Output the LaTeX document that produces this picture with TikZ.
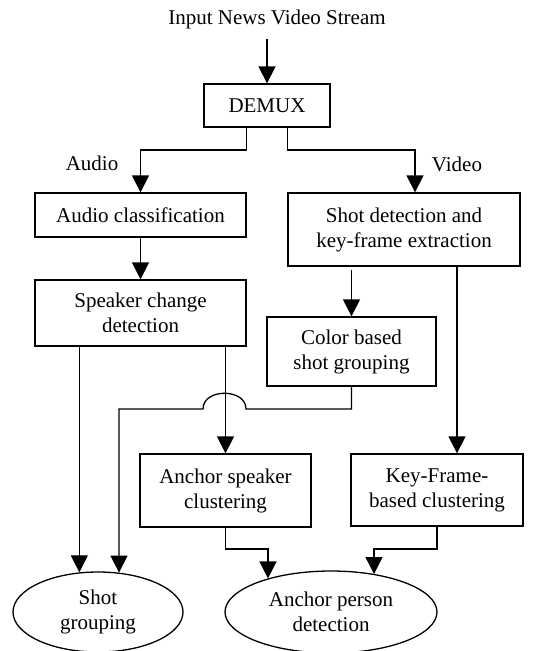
\documentclass[tikz,border=0pt]{standalone}
\usepackage{fontspec}
\setmainfont{Liberation Serif}
\usetikzlibrary{arrows.meta,shapes.geometric}
\begin{document}
\begin{tikzpicture}[x=1pt,y=-1pt,
    txt/.style={font=\fontsize{21}{25}\selectfont},
    box/.style={txt, draw, line width=1.3pt, inner sep=0pt, align=center},
    oval/.style={txt, ellipse, draw, line width=1.3pt, inner sep=0pt, align=center},
    arr/.style={line width=1.3pt, -{Triangle[length=17pt,width=17pt]}}]
    \useasboundingbox (0,0) rectangle (540,651);
    % the input and the demux
    \node[txt] (title) at (277,19) {Input News Video Stream};
    \coordinate (in) at (267,39);
    \node[box, minimum width=126, minimum height=43] (demux) at (267,105.5) {DEMUX};
    \node[txt] (audiolbl) at (92,163) {Audio};
    \node[txt] (videolbl) at (457,164) {Video};
    % the boxes
    \node[box, minimum width=211, minimum height=44] (audio) at (140.5,215) {Audio classification};
    \node[box, minimum width=232, minimum height=73] (shot) at (404,229.5) {Shot detection and\\key-frame extraction};
    \node[box, minimum width=211, minimum height=66] (speaker) at (140.5,313) {Speaker change\\detection};
    \node[box, minimum width=169, minimum height=69] (color) at (351.5,351.5) {Color based\\shot grouping};
    \node[box, minimum width=171, minimum height=73] (anchor) at (225.5,490.5) {Anchor speaker\\clustering};
    \node[box, minimum width=172, minimum height=72] (keyframe) at (437,490) {Key-Frame-\\based clustering};
    % the results
    \node[oval, minimum width=170, minimum height=80] (grouping) at (98,612) {Shot\\grouping};
    \node[oval, minimum width=212, minimum height=82] (person) at (331,612) {Anchor person\\detection};
    % the points where the lines bend
    \coordinate (split) at (0,150);
    \coordinate (vid) at (415,150);
    \coordinate (kx) at ([xshift=53pt]shot.south);
    \coordinate (sx) at ([xshift=45pt]speaker.south west);
    \coordinate (hopr) at (246,409);
    \coordinate (hopl) at (203,409);
    \coordinate (cg) at (119,409);
    \coordinate (ja) at (268,549);
    \coordinate (jk) at (374,549);
    % draw the arrows
    \draw[arr] (in) -- (demux.north);
    \draw[arr] (demux.south -| audio.east) -- (split -| audio.east) -- (split -| audio.north) -- (audio.north);
    \draw[arr] (demux.south -| shot.west) |- (vid) -- (vid |- shot.north);
    \draw[arr] (audio.south) -- (speaker.north);
    \draw[arr] ([yshift=-3pt]shot.south -| color.north) -- (color.north);
    \draw[arr] (kx) -- (kx |- keyframe.north);
    \draw[arr] (sx) -- (sx |- grouping.115);
    \draw[arr] (speaker.south -| anchor.north) -- (anchor.north);
    \draw[arr] (color.south) |- (hopr) .. controls +(0,-21) and +(0,-21) .. (hopl) -- (cg) -- (cg |- grouping.62);
    \draw[arr] (anchor.south) |- (ja) -- (ja |- person.152);
    \draw[arr] (keyframe.south) |- (jk) -- (jk |- person.41);
\end{tikzpicture}
\end{document}
